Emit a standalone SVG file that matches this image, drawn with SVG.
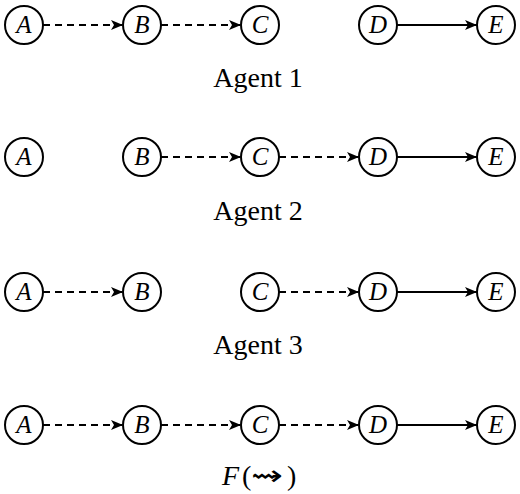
<svg xmlns="http://www.w3.org/2000/svg" width="520" height="494" viewBox="0 0 520 494">
<style>
.n{fill:#fff;stroke:#000;stroke-width:2}
.t{font-family:"Liberation Serif",serif;font-style:italic;font-size:25px;text-anchor:middle}
.lbl{font-family:"Liberation Serif",serif;font-size:28px;text-anchor:middle}
.e{stroke:#000;stroke-width:2;fill:none}
.d{stroke-dasharray:7,5}
</style>
<defs>
<marker id="ah" viewBox="0 0 12 10" refX="12" refY="5" markerWidth="12" markerHeight="10" markerUnits="userSpaceOnUse" orient="auto">
<path d="M0,0 L12,5 L0,10 L3,5 Z" fill="#000"/>
</marker>
</defs>
<rect width="520" height="494" fill="#fff"/>
<g id="connectors">
<line class="e d" x1="43" y1="25" x2="123" y2="25" marker-end="url(#ah)"/>
<line class="e d" x1="161" y1="25" x2="241" y2="25" marker-end="url(#ah)"/>
<line class="e" x1="397" y1="25" x2="477" y2="25" marker-end="url(#ah)"/>
<line class="e d" x1="161" y1="157" x2="241" y2="157" marker-end="url(#ah)"/>
<line class="e d" x1="279" y1="157" x2="359" y2="157" marker-end="url(#ah)"/>
<line class="e" x1="397" y1="157" x2="477" y2="157" marker-end="url(#ah)"/>
<line class="e d" x1="43" y1="292" x2="123" y2="292" marker-end="url(#ah)"/>
<line class="e d" x1="279" y1="292" x2="359" y2="292" marker-end="url(#ah)"/>
<line class="e" x1="397" y1="292" x2="477" y2="292" marker-end="url(#ah)"/>
<line class="e d" x1="43" y1="425" x2="123" y2="425" marker-end="url(#ah)"/>
<line class="e d" x1="161" y1="425" x2="241" y2="425" marker-end="url(#ah)"/>
<line class="e d" x1="279" y1="425" x2="359" y2="425" marker-end="url(#ah)"/>
<line class="e" x1="397" y1="425" x2="477" y2="425" marker-end="url(#ah)"/>
</g>
<g id="r1A"><circle class="n" cx="24" cy="25" r="19"/><text class="t" x="24" y="33">A</text></g>
<g id="r1B"><circle class="n" cx="142" cy="25" r="19"/><text class="t" x="142" y="33">B</text></g>
<g id="r1C"><circle class="n" cx="260" cy="25" r="19"/><text class="t" x="260" y="33">C</text></g>
<g id="r1D"><circle class="n" cx="378" cy="25" r="19"/><text class="t" x="378" y="33">D</text></g>
<g id="r1E"><circle class="n" cx="496" cy="25" r="19"/><text class="t" x="496" y="33">E</text></g>
<text id="lbl1" class="lbl" x="258" y="87">Agent 1</text>
<g id="r2A"><circle class="n" cx="24" cy="157" r="19"/><text class="t" x="24" y="165">A</text></g>
<g id="r2B"><circle class="n" cx="142" cy="157" r="19"/><text class="t" x="142" y="165">B</text></g>
<g id="r2C"><circle class="n" cx="260" cy="157" r="19"/><text class="t" x="260" y="165">C</text></g>
<g id="r2D"><circle class="n" cx="378" cy="157" r="19"/><text class="t" x="378" y="165">D</text></g>
<g id="r2E"><circle class="n" cx="496" cy="157" r="19"/><text class="t" x="496" y="165">E</text></g>
<text id="lbl2" class="lbl" x="258" y="220">Agent 2</text>
<g id="r3A"><circle class="n" cx="24" cy="292" r="19"/><text class="t" x="24" y="300">A</text></g>
<g id="r3B"><circle class="n" cx="142" cy="292" r="19"/><text class="t" x="142" y="300">B</text></g>
<g id="r3C"><circle class="n" cx="260" cy="292" r="19"/><text class="t" x="260" y="300">C</text></g>
<g id="r3D"><circle class="n" cx="378" cy="292" r="19"/><text class="t" x="378" y="300">D</text></g>
<g id="r3E"><circle class="n" cx="496" cy="292" r="19"/><text class="t" x="496" y="300">E</text></g>
<text id="lbl3" class="lbl" x="258" y="354">Agent 3</text>
<g id="r4A"><circle class="n" cx="24" cy="425" r="19"/><text class="t" x="24" y="433">A</text></g>
<g id="r4B"><circle class="n" cx="142" cy="425" r="19"/><text class="t" x="142" y="433">B</text></g>
<g id="r4C"><circle class="n" cx="260" cy="425" r="19"/><text class="t" x="260" y="433">C</text></g>
<g id="r4D"><circle class="n" cx="378" cy="425" r="19"/><text class="t" x="378" y="433">D</text></g>
<g id="r4E"><circle class="n" cx="496" cy="425" r="19"/><text class="t" x="496" y="433">E</text></g>
<text id="lbl4" class="lbl" x="222" y="485" style="text-anchor:start"><tspan font-style="italic">F</tspan><tspan x="242">(</tspan><tspan x="251" font-family="'DejaVu Sans',sans-serif" font-size="28px" textLength="32" lengthAdjust="spacingAndGlyphs">⇝</tspan><tspan x="287">)</tspan></text>
</svg>
